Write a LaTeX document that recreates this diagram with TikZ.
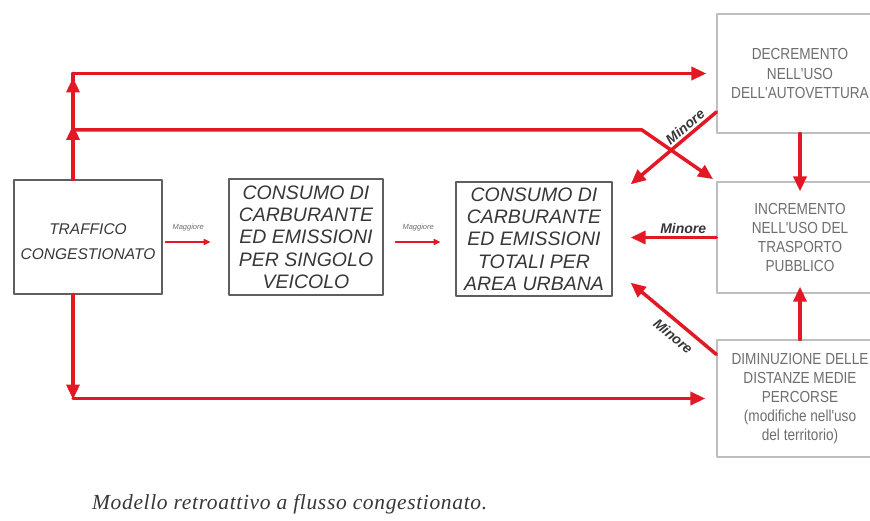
\documentclass[tikz,border=0pt]{standalone}
\usepackage{fontspec}
\setmainfont{Liberation Sans}
\newfontfamily\narrowfont[FakeStretch=0.85]{Liberation Sans}
\newfontfamily\captionfont[LetterSpace=3]{Liberation Serif}
\usetikzlibrary{arrows.meta}
\definecolor{rosso}{RGB}{226,24,36}
\definecolor{grigioscuro}{RGB}{95,95,95}
\definecolor{grigiochiaro}{RGB}{190,190,190}
\definecolor{testogrigio}{RGB}{110,110,110}
\definecolor{testoscuro}{RGB}{55,55,55}

\begin{document}
\begin{tikzpicture}[line cap=round,line join=round,x=1pt,y=-1pt,
		scatola/.style={draw=grigioscuro,line width=1.3pt,inner sep=0pt,align=center,text=testoscuro,font=\fontsize{19.5}{22.3}\selectfont\itshape},
		scatolachiara/.style={draw=grigiochiaro,line width=1.2pt,inner sep=0pt,align=center,text=testogrigio,font=\narrowfont\fontsize{16}{19.2}\selectfont},
		freccia/.style={draw=rosso,line width=3.5pt,-{Triangle[length=15pt,width=13pt]}},
		linea/.style={draw=rosso,line width=3.5pt},
		frecciolina/.style={draw=rosso,line width=1.8pt,-{Triangle[length=7pt,width=6pt]}},
		minore/.style={font=\fontsize{14}{14}\selectfont\bfseries\itshape,text=testoscuro,inner sep=2pt},
		maggiore/.style={font=\fontsize{7.5}{7.5}\selectfont\itshape,text=testogrigio,inner sep=1pt}]
	\useasboundingbox (0,0) rectangle (870,521);
	\clip (0,0) rectangle (870,521);
	% Riga centrale
	\node[scatola,minimum width=148,minimum height=114,font=\fontsize{15.5}{25}\selectfont\itshape] (traffico) at (88,237) {\rule{0pt}{20pt}TRAFFICO\\CONGESTIONATO};
	\node[scatola,minimum width=154,minimum height=116] (consumo) at (306,237) {CONSUMO DI\\CARBURANTE\\ED EMISSIONI\\PER SINGOLO\\VEICOLO};
	\node[scatola,minimum width=156,minimum height=114] (totali) at (534,239) {CONSUMO DI\\CARBURANTE\\ED EMISSIONI\\TOTALI PER\\AREA URBANA};
	% Colonna destra
	\node[scatolachiara,minimum width=166,minimum height=119] (decremento) at (800,73.5) {DECREMENTO\\NELL'USO\\DELL'AUTOVETTURA};
	\node[scatolachiara,minimum width=166,minimum height=111] (incremento) at (800,237.5) {INCREMENTO\\NELL'USO DEL\\TRASPORTO\\PUBBLICO};
	\node[scatolachiara,minimum width=166,minimum height=117] (diminuzione) at (800,398.5) {DIMINUZIONE DELLE\\DISTANZE MEDIE\\PERCORSE\\(modifiche nell'uso\\del territorio)};
	% Punti di piega
	\coordinate (incrocio) at ([xshift=-15pt]traffico.north |- 0,130);
	\coordinate (angolo) at ([xshift=-15pt]traffico.north |- decremento.west);
	\coordinate (angolobasso) at ([xshift=-15pt]traffico.south |- diminuzione.west);
	\coordinate (piega) at (642,130);
	% Anello superiore
	\draw[linea] ([xshift=-15pt]traffico.north) -- (angolo);
	\draw[freccia,shorten >=-5pt] ([xshift=-15pt]traffico.north) -- (incrocio);
	\draw[freccia,shorten >=4pt] (incrocio) -- (angolo);
	\draw[freccia,shorten >=10pt] (angolo) -- (decremento.west);
	\draw[freccia,shorten >=4pt] (incrocio) -- (piega) -- (incremento.north west);
	% Anello inferiore
	\draw[freccia,shorten >=-1pt] ([xshift=-15pt]traffico.south) -- (angolobasso);
	\draw[freccia,shorten >=11pt] (angolobasso) -- (diminuzione.west);
	% Frecce centrali
	\draw[frecciolina] ([xshift=3pt,yshift=-5pt]traffico.east) -- ++(45,0)
		node[midway,above=9pt,maggiore] {Maggiore};
	\draw[frecciolina] ([xshift=12pt,yshift=-5pt]consumo.east) -- ++(45,0)
		node[midway,above=9pt,maggiore] {Maggiore};
	% Ritorni verso il consumo totale
	\draw[freccia] (decremento.south) -- ([yshift=-10pt]incremento.north);
	\draw[freccia] (diminuzione.north) -- ([yshift=7pt]incremento.south);
	\draw[freccia,shorten >=18pt] (incremento.west) -- (totali.east |- incremento.west)
		node[pos=0.32,anchor=south,minore] {Minore};
	\draw[freccia] ([yshift=-38.5pt]decremento.west) -- ([xshift=18pt,yshift=-3pt]totali.north east)
		node[pos=0.3,anchor=south,rotate=40,minore] {Minore};
	\draw[freccia] ([yshift=-15pt]diminuzione.north west) -- ([xshift=18pt,yshift=14pt]totali.south east)
		node[pos=0.4,anchor=north,rotate=-40,minore,inner sep=7pt] {Minore};
	% Didascalia
	\node[anchor=base west,font=\captionfont\fontsize{21.5}{21.5}\selectfont\itshape,text=testoscuro,inner sep=0pt] (didascalia) at (92,509) {Modello retroattivo a flusso congestionato.};
\end{tikzpicture}
\end{document}
